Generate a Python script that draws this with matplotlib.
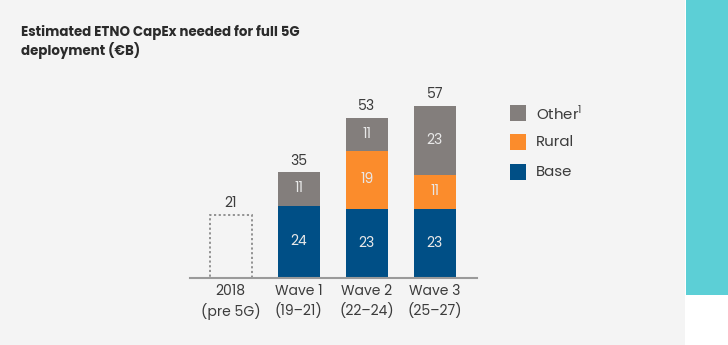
import numpy as np
import matplotlib.pyplot as plt
from matplotlib.patches import Rectangle

# CapEx (EUR bn) per deployment wave
categories = ["2018\n(pre 5G)", "Wave 1\n(19\u201321)", "Wave 2\n(22\u201324)", "Wave 3\n(25\u201327)"]
baseline_2018 = 21
base = [0, 24, 23, 23]
rural = [0, 0, 19, 11]
other = [0, 11, 11, 23]

c_base = "#004f86"
c_rural = "#fb8c2c"
c_other = "#837e7c"
c_text = "#3c3c3c"
bg = "#f4f4f4"

plt.rcParams['font.family'] = ['Poppins', 'Lato', 'DejaVu Sans']

W, H = 728, 345
fig = plt.figure(figsize=(W / 100, H / 100), dpi=100)
fig.patch.set_facecolor("white")

# page background and teal side strip
fig.patches.append(Rectangle((0, 0), 685 / W, 1, transform=fig.transFigure,
                             facecolor=bg, edgecolor="none", zorder=-5))
fig.patches.append(Rectangle((686 / W, 50 / H), 42 / W, 295 / H, transform=fig.transFigure,
                             facecolor="#5ccfd6", edgecolor="none", zorder=-5))

fig.text(21 / W, 1 - 42 / H, "Estimated ETNO CapEx needed for full 5G\ndeployment (\u20acB)",
         fontsize=9.6, fontweight="bold", color="#2b2b2b", va="center", linespacing=1.12)

# axes placed in pixel terms: baseline at y=278, 3 px per unit
base_y = 278
ppu = 3.02
ymax = 70
ax = fig.add_axes([190 / W, (H - base_y) / H, 287 / W, ymax * ppu / H])
ax.set_facecolor("none")
ax.set_xlim(-0.6, 3.62)
ax.set_ylim(0, ymax)

x = np.arange(len(categories))
w = 0.62
base = np.array(base)
rural = np.array(rural)
other = np.array(other)

# 2018 reference as dotted outline
ax.bar(x[0], baseline_2018, width=w, fill=False, edgecolor="#8a8a8a",
       linestyle=(0, (1.2, 1.4)), linewidth=1.3)
ax.text(x[0], baseline_2018 + 1.2, str(baseline_2018), ha="center", va="bottom",
        fontsize=10, color=c_text)

xs = x[1:]
ax.bar(xs, base[1:], width=w, color=c_base)
ax.bar(xs, rural[1:], width=w, bottom=base[1:], color=c_rural)
ax.bar(xs, other[1:], width=w, bottom=base[1:] + rural[1:], color=c_other)

for i in xs:
    bottom = 0
    for v in (base[i], rural[i], other[i]):
        if v:
            ax.text(i, bottom + v / 2, str(v), ha="center", va="center",
                    fontsize=10, color="#e8e8e8")
        bottom += v
    ax.text(i, bottom + 1.2, str(bottom), ha="center", va="bottom",
            fontsize=10, color=c_text)

for s in ["top", "right", "left"]:
    ax.spines[s].set_visible(False)
ax.spines["bottom"].set_color("#9a9a9a")
ax.spines["bottom"].set_linewidth(1.5)
ax.set_yticks([])
ax.set_xticks(x)
ax.set_xticklabels(categories, fontsize=10, color=c_text, linespacing=1.35)
ax.tick_params(axis="x", length=0, pad=4)

# legend
legend_items = [("Other", c_other, 113), ("Rural", c_rural, 142), ("Base", c_base, 172)]
for name, col, yc in legend_items:
    fig.patches.append(Rectangle((510 / W, 1 - (yc + 8) / H), 16 / W, 16 / H,
                                 transform=fig.transFigure, facecolor=col, edgecolor="none"))
    label = name + r"$^{\mathregular{1}}$" if name == "Other" else name
    fig.text(536 / W, 1 - (yc + 1) / H, label, fontsize=10.8, color=c_text, va="center")

fig.savefig("out.png", dpi=100, facecolor=fig.get_facecolor())
